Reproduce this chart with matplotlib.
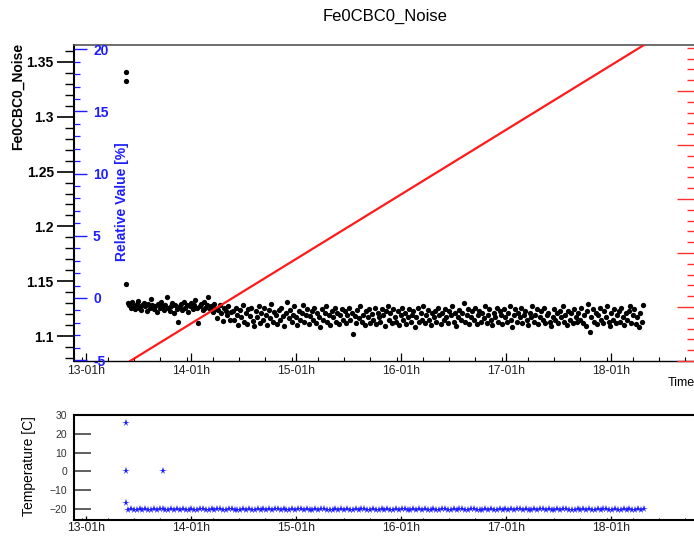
import numpy as np
import matplotlib
matplotlib.use('Agg')
import matplotlib.pyplot as plt
from matplotlib.ticker import MultipleLocator, NullFormatter

plt.rcParams['font.family'] = ['Liberation Sans', 'DejaVu Sans']

# ---------------- data ----------------
# time axis: hours since 13-00h
tick_hours = [1, 25, 49, 73, 97, 121]
tick_labels = ["13-01h", "14-01h", "15-01h", "16-01h", "17-01h", "18-01h"]

noise_first_t = [10.1, 10.1, 10.2]
noise_first_v = [1.341, 1.333, 1.147]

noise_start, noise_end = 10.6, 128.3
noise_values = [
    1.130,1.128,1.126,1.131,1.127,1.125,1.129,1.132,1.126,1.124,
    1.128,1.130,1.127,1.123,1.129,1.126,1.134,1.128,1.125,1.127,
    1.122,1.129,1.126,1.131,1.127,1.124,1.128,1.136,1.126,1.123,
    1.127,1.130,1.121,1.128,1.125,1.113,1.127,1.129,1.124,1.131,
    1.126,1.128,1.122,1.127,1.130,1.125,1.128,1.133,1.126,1.112,
    1.127,1.129,1.124,1.131,1.126,1.128,1.136,1.125,
    1.127,1.122,1.129,1.125,1.116,1.124,1.128,1.121,1.114,1.126,
    1.123,1.119,1.127,1.115,1.122,
    1.123,1.115,1.126,1.119,1.110,1.124,1.117,1.128,1.113,1.121,
    1.111,1.125,1.118,1.126,1.114,1.109,1.123,1.117,1.127,1.112,
    1.121,1.115,1.126,1.119,1.110,1.124,1.116,1.129,1.113,1.122,
    1.119,1.111,1.124,1.115,1.126,1.118,1.109,1.121,1.131,1.116,
    1.124,1.113,1.119,1.127,1.117,1.110,1.123,1.115,1.121,1.128,
    1.113,1.119,1.125,1.111,1.118,1.123,1.115,1.126,1.112,1.121,
    1.117,1.108,1.125,1.115,1.121,1.127,1.113,1.119,1.110,1.123,
    1.117,1.126,1.113,1.121,1.111,1.119,1.125,1.115,1.123,1.112,
    1.119,1.126,1.115,1.121,1.102,1.118,1.112,1.124,1.116,1.127,
    1.113,1.119,1.110,1.123,1.117,1.125,1.112,1.120,1.115,1.126,
    1.111,1.121,1.117,1.113,1.125,1.119,1.109,1.123,1.127,1.115,
    1.121,1.112,1.125,1.117,1.113,1.123,1.110,1.119,1.126,1.115,
    1.121,1.111,1.117,1.125,1.113,1.119,1.123,1.108,1.117,1.126,
    1.113,1.121,1.115,1.127,1.112,1.119,1.124,1.115,1.110,1.121,
    1.117,1.123,1.113,1.126,1.119,1.111,1.121,1.115,1.125,1.117,
    1.112,1.123,1.119,1.127,1.113,1.121,1.109,1.117,1.124,1.115,
    1.121,1.130,1.113,1.119,1.125,1.111,1.117,1.123,1.115,1.126,
    1.111,1.119,1.123,1.113,1.121,1.116,1.127,1.112,1.119,1.125,
    1.115,1.110,1.121,1.117,1.126,1.113,1.123,1.119,1.111,1.125,
    1.117,1.113,1.121,1.127,1.115,1.108,1.119,1.125,1.113,1.121,
    1.117,1.126,1.112,1.119,1.123,1.115,1.110,1.121,1.117,1.127,
    1.113,1.119,1.125,1.111,1.117,1.123,1.115,1.126,1.112,1.119,
    1.121,1.113,1.109,1.117,1.125,1.115,1.121,1.112,1.123,1.117,
    1.127,1.113,1.119,1.110,1.123,1.115,1.121,1.112,1.125,1.117,
    1.113,1.121,1.115,1.126,1.112,1.119,1.109,1.123,1.129,1.104,
    1.117,1.125,1.113,1.121,1.111,1.119,1.126,1.115,1.112,1.123,
    1.117,1.127,1.113,1.109,1.121,1.115,1.125,1.112,1.119,1.123,
    1.113,1.126,1.117,1.110,1.121,1.115,1.123,1.127,1.112,1.119,
    1.125,1.111,1.117,1.108,1.121,1.113,1.128,
]
noise_ref = 1.1347          # reference for the relative-value axis

red_line_t = [11.1, 128.5]
red_line_v = [0.0, 5.85]

temp_first_t = [10.1, 10.1, 10.2, 18.6]
temp_first_v = [26.0, 0.2, -16.5, 0.2]
temp_start, temp_end = 10.6, 128.5
temp_values = [
    -20.2,-20.1,-20.3,-20.2,-20.0,-20.2,-20.1,-20.3,-20.2,-20.1,-20.2,-20.0,
    -20.1,-20.2,-20.3,-20.1,-20.2,-20.0,-20.2,-20.1,-20.3,-20.2,-20.1,-20.2,
    -20.2,-20.0,-20.1,-20.3,-20.2,-20.1,-20.2,-20.0,-20.1,-20.2,-20.3,-20.1,
    -20.1,-20.2,-20.3,-20.2,-20.0,-20.2,-20.1,-20.2,-20.2,-20.1,-20.2,-20.0,
    -20.2,-20.1,-20.3,-20.1,-20.0,-20.2,-20.1,-20.3,-20.2,-20.1,-20.2,-20.1,
    -20.0,-20.2,-20.1,-20.3,-20.2,-20.1,-20.2,-20.0,-20.1,-20.2,-20.3,-20.2,
    -20.1,-20.2,-20.0,-20.2,-20.1,-20.3,-20.2,-20.1,-20.2,-20.0,-20.1,-20.2,
    -20.2,-20.1,-20.3,-20.2,-20.0,-20.2,-20.1,-20.3,-20.2,-20.1,-20.2,-20.0,
    -20.1,-20.2,-20.3,-20.1,-20.2,-20.0,-20.2,-20.1,-20.3,-20.2,-20.1,-20.2,
    -20.2,-20.0,-20.1,-20.3,-20.2,-20.1,-20.2,-20.0,-20.1,-20.2,-20.3,-20.1,
    -20.1,-20.2,-20.3,-20.2,-20.0,-20.2,-20.1,-20.2,-20.2,-20.1,-20.2,-20.0,
    -20.2,-20.1,-20.3,-20.1,-20.0,-20.2,-20.1,-20.3,-20.2,-20.1,-20.2,-20.1,
    -20.0,-20.2,-20.1,-20.3,-20.2,-20.1,-20.2,-20.0,-20.1,-20.2,-20.3,-20.2,
    -20.1,-20.2,-20.0,-20.2,-20.1,-20.3,-20.2,-20.1,-20.2,-20.0,-20.1,-20.2,
    -20.2,-20.1,-20.3,-20.2,-20.0,-20.2,-20.1,-20.3,-20.2,-20.1,-20.2,-20.0,
]

# ---------------- layout ----------------
W, H = 694, 536
def fx(px): return px / W
def fy(py): return 1 - py / H

BLUE = '#1e1eff'
RED = '#ff3030'
xmin, xmax = -1.74, 139.97

fig = plt.figure(figsize=(W / 100, H / 100), dpi=100)

# ---- top panel ----
ax = fig.add_axes([fx(74), fy(361), fx(694) - fx(74), fy(45) - fy(361)])
ax.set_xlim(xmin, xmax)
ylo, yhi = 1.0772, 1.3655
ax.set_ylim(ylo, yhi)

noise_t = np.linspace(noise_start, noise_end, len(noise_values))
ax.plot(noise_first_t, noise_first_v, 'o', color='black', ms=3.8, mew=0)
ax.plot(noise_t, noise_values, 'o', color='black', ms=3.8, mew=0)

ax.spines['right'].set_visible(False)
ax.spines['top'].set_color('#555555')
ax.spines['top'].set_linewidth(1.2)
ax.spines['left'].set_linewidth(1.5)
ax.spines['bottom'].set_linewidth(1.0)

ax.set_yticks([1.10, 1.15, 1.20, 1.25, 1.30, 1.35],
              ['1.1', '1.15', '1.2', '1.25', '1.3', '1.35'])
ax.yaxis.set_minor_locator(MultipleLocator(0.01))
ax.tick_params(axis='y', which='major', direction='out', length=12, width=1.2,
               labelsize=10, pad=2.5)
ax.tick_params(axis='y', which='minor', direction='out', length=6.5, width=1.0)
for lbl in ax.get_yticklabels():
    lbl.set_fontweight('bold')

ax.set_xticks(tick_hours, tick_labels)
ax.xaxis.set_minor_locator(MultipleLocator(6))
ax.tick_params(axis='x', which='major', direction='in', length=5.8, width=0.9,
               labelsize=8.8, pad=3, labelcolor='#222222')
ax.tick_params(axis='x', which='minor', direction='in', length=3, width=0.8)

# blue relative-value axis
axb = ax.twinx()
for s in axb.spines.values():
    s.set_visible(False)
axb.set_ylim((ylo / noise_ref - 1) * 100, (yhi / noise_ref - 1) * 100)
axb.yaxis.tick_left()
axb.set_yticks([-5, 0, 5, 10, 15, 20], ['-5', '0', '5', '10', '15', '20'])
axb.yaxis.set_minor_locator(MultipleLocator(1))
axb.tick_params(axis='y', which='major', direction='in', length=9.4, width=1.0,
                color=BLUE, labelcolor=BLUE, labelsize=10, pad=-13.7,
                left=True, right=False, labelleft=True, labelright=False)
axb.tick_params(axis='y', which='minor', direction='in', length=4.3, width=0.9,
                color=BLUE, left=True, right=False)
for lbl in axb.get_yticklabels():
    lbl.set_fontweight('bold')
    lbl.set_horizontalalignment('left')

# red axis on the right edge
axr = ax.twinx()
for s in axr.spines.values():
    s.set_visible(False)
axr.set_ylim(0, 316 / 54)
axr.set_yticks([0, 1, 2, 3, 4, 5])
axr.yaxis.set_minor_locator(MultipleLocator(0.2))
axr.yaxis.set_major_formatter(NullFormatter())
axr.tick_params(axis='y', which='major', direction='in', length=12, width=1.0,
                color=RED, labelright=False)
axr.tick_params(axis='y', which='minor', direction='in', length=5, width=1.0,
                color=RED)
axr.plot(red_line_t, red_line_v, '-', color='#ff1a1a', lw=1.6)

# ---- bottom panel ----
axt = fig.add_axes([fx(74), fy(519.5), fx(694) - fx(74), fy(415) - fy(519.5)])
axt.set_xlim(xmin, xmax)
axt.set_ylim(-25.5, 30)
temp_t = np.linspace(temp_start, temp_end, len(temp_values))
axt.plot(temp_first_t, temp_first_v, '*', color=BLUE, ms=5.5, mew=0)
axt.plot(temp_t, temp_values, '*', color=BLUE, ms=5.5, mew=0)
axt.spines['right'].set_visible(False)
for s in ['left', 'top', 'bottom']:
    axt.spines[s].set_linewidth(1.5)
axt.set_yticks([-20, -10, 0, 10, 20, 30])
axt.tick_params(axis='y', which='major', direction='in', length=12, width=1.2,
                color='#444444', labelsize=7.5, labelcolor='#333333', pad=5)
axt.set_xticks(tick_hours, tick_labels)
axt.xaxis.set_minor_locator(MultipleLocator(6))
axt.tick_params(axis='x', which='major', direction='in', length=2.8, width=0.9,
                labelsize=8.8, pad=1.5, labelcolor='#222222')
axt.tick_params(axis='x', which='minor', direction='in', length=1.6, width=0.8)

# ---- texts ----
fig.text(fx(385), fy(16), 'Fe0CBC0_Noise', ha='center', va='center', fontsize=12)
fig.text(fx(18), fy(43), 'Fe0CBC0_Noise', rotation=90, ha='center', va='top',
         fontsize=10, fontweight='bold')
fig.text(fx(122), fy(142), 'Relative Value [%]', rotation=90, ha='center', va='top',
         fontsize=10, fontweight='bold', color=BLUE)
fig.text(fx(668), fy(383), 'Time', ha='left', va='center', fontsize=9)
fig.text(fx(29), fy(466), 'Temperature [C]', rotation=90, ha='center', va='center',
         fontsize=10)

fig.savefig('out.png', dpi=100)
